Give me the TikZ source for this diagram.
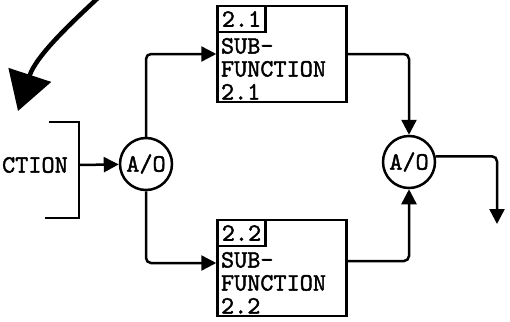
\documentclass[tikz,border=0pt]{standalone}
\usepackage{fontspec}
\newfontfamily\typewriter{lmmono10-regular.otf}[FakeBold=1.6]
\usetikzlibrary{arrows.meta, positioning, calc}

\begin{document}
\begin{tikzpicture}[x=1pt, y=-1pt, line width=2.5pt,
    font=\typewriter\fontsize{25}{23}\selectfont,
    subbox/.style={draw, minimum width=129pt, minimum height=96pt, inner sep=0pt},
    tagbox/.style={draw, anchor=north west, minimum width=48pt, minimum height=26pt, inner sep=2pt},
    bodytext/.style={anchor=north west, align=left, inner sep=3.5pt},
    andor/.style={draw, circle, minimum size=52pt, inner sep=0pt},
    flow/.style={-{Triangle[length=15pt, width=15pt]}, rounded corners=5pt}]
    \useasboundingbox (0,0) rectangle (510,321);

    % Top left: swinging arrow
    \coordinate (swingstart) at (99,-3);
    \coordinate (swingtip) at (18,111);
    \draw[line width=4.5pt, -{Triangle[length=38pt, width=44pt]}] (swingstart) .. controls (70,24) and (36,56) .. (swingtip);

    % Left: cut-off function box
    \draw (49,122) -- (79,122) -- (79,218) -- (45,218);
    \coordinate (brk) at (79,165);
    \node[anchor=east, inner sep=0pt] (fnlabel) at (69,165) {CTION};

    % Split and join
    \node[andor] (orL) at (146,164) {A/O};
    \node[andor] (orR) at (409,162) {A/O};

    % Sub-function 2.1
    \node[subbox] (sub21) at (282,54) {};
    \node[tagbox] (tag21) at (sub21.north west) {2.1};
    \node[bodytext] (txt21) at (tag21.south west) {SUB-\\FUNCTION\\2.1};

    % Sub-function 2.2
    \node[subbox] (sub22) at (282,268) {};
    \node[tagbox] (tag22) at (sub22.north west) {2.2};
    \node[bodytext] (txt22) at (tag22.south west) {SUB-\\FUNCTION\\2.2};

    \draw[flow] (brk) -- (orL);
    \draw[flow] (orL.north) |- (sub21.west);
    \draw[flow] (orL.south) |- ([yshift=5pt]sub22.west);
    \draw[flow] (sub21.east) -| (orR.north);
    \draw[flow] ([yshift=7pt]sub22.east) -| (orR.south);

    % Output
    \coordinate (outend) at (497,224);
    \draw[flow] (orR.12) -| (outend);
\end{tikzpicture}
\end{document}
